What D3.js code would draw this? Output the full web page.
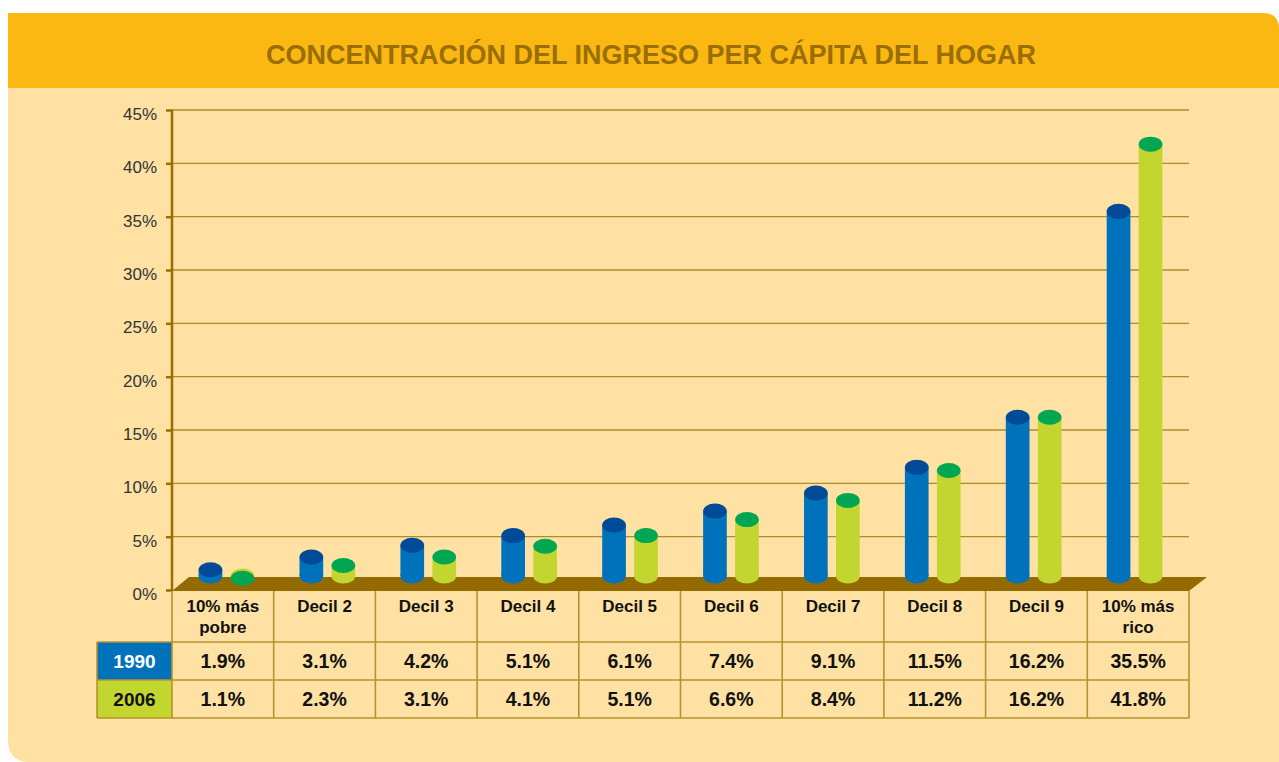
<!DOCTYPE html>
<html>
<head>
<meta charset="utf-8">
<script src="https://cdn.jsdelivr.net/npm/d3@7"></script>
<style>
  html, body { margin: 0; padding: 0; background: #ffffff; }
  svg { display: block; font-family: "Liberation Sans", Arial, Helvetica, sans-serif; }
</style>
</head>
<body>
<svg id="chart" width="1279" height="762"></svg>
<script>
// Income share by household decile, 1990 vs 2006
const categories = ["10% más pobre", "Decil 2", "Decil 3", "Decil 4", "Decil 5",
                    "Decil 6", "Decil 7", "Decil 8", "Decil 9", "10% más rico"];
const categoryLines = [["10% más", "pobre"], ["Decil 2"], ["Decil 3"], ["Decil 4"], ["Decil 5"],
                       ["Decil 6"], ["Decil 7"], ["Decil 8"], ["Decil 9"], ["10% más", "rico"]];
const years = ["1990", "2006"];
const values1990 = [1.9, 3.1, 4.2, 5.1, 6.1, 7.4, 9.1, 11.5, 16.2, 35.5];
const values2006 = [1.1, 2.3, 3.1, 4.1, 5.1, 6.6, 8.4, 11.2, 16.2, 41.8];
const yTicks = [0, 5, 10, 15, 20, 25, 30, 35, 40, 45];
const title = "CONCENTRACIÓN DEL INGRESO PER CÁPITA DEL HOGAR";

const series = [
  { year: years[0], values: values1990, side: "#0072bc", top: "#004a97", cell: "#0072bc", text: "#ffffff" },
  { year: years[1], values: values2006, side: "#c2d62f", top: "#00a651", cell: "#c2d62f", text: "#111111" }
];

const svg = d3.select("#chart");

// Panel background: header band + body, rounded top-right and bottom-left corners
const P = { x0: 8, y0: 13, x1: 1279, y1: 762, rTR: 16, rBL: 22, headerBottom: 88 };
svg.append("path")
  .attr("d", `M${P.x0},${P.y0} H${P.x1 - P.rTR} Q${P.x1},${P.y0} ${P.x1},${P.y0 + P.rTR} V${P.y1} H${P.x0 + P.rBL} Q${P.x0},${P.y1} ${P.x0},${P.y1 - P.rBL} Z`)
  .attr("fill", "#fee1a3");
svg.append("path")
  .attr("d", `M${P.x0},${P.y0} H${P.x1 - P.rTR} Q${P.x1},${P.y0} ${P.x1},${P.y0 + P.rTR} V${P.headerBottom} H${P.x0} Z`)
  .attr("fill", "#fbb813");

svg.append("text")
  .attr("x", 651).attr("y", 64)
  .attr("text-anchor", "middle")
  .attr("font-size", 27).attr("font-weight", "bold")
  .attr("fill", "#9a6e00")
  .text(title);

// Plot geometry
const left = 172, right = 1189;
const y = d3.scaleLinear().domain([0, 45]).range([590, 110]);
const xCol = d3.scaleBand().domain(categories).range([left, right]);
const xBar = d3.scaleBand().domain(categories).range([176, 1185]);
const xSeries = d3.scaleBand().domain(years).range([-32, 32]).paddingInner(0);

// Gridlines
svg.append("g")
  .selectAll("line")
  .data(yTicks.filter(t => t > 0))
  .join("line")
  .attr("x1", left).attr("x2", right)
  .attr("y1", d => y(d)).attr("y2", d => y(d))
  .attr("stroke", "#b08a2c").attr("stroke-width", 1.3);

// Y axis
const yAxis = svg.append("g")
  .attr("transform", `translate(${left},0)`)
  .call(d3.axisLeft(y).tickValues(yTicks).tickFormat(d => d + "%").tickSize(6).tickPadding(9));
yAxis.select(".domain").attr("stroke", "#9a6e00").attr("stroke-width", 2.5)
  .attr("d", `M0,${y(45)}V${591}`);
yAxis.selectAll(".tick line").attr("stroke", "#9a6e00").attr("stroke-width", 2.5);
yAxis.selectAll(".tick text")
  .attr("font-size", 17).attr("fill", "#333333")
  .attr("dy", "0.55em")
  .attr("font-family", "Liberation Sans, Arial, sans-serif");

// Floor slab
svg.append("path")
  .attr("d", `M${left + 17},577 L${right + 18},577 L${right},591 L${left},591 Z`)
  .attr("fill", "#946b00");

// Cylinders
const baseY = 576, ry = 7.5;
const barW = xSeries.bandwidth() * 0.74;
series.forEach(s => {
  const g = svg.append("g");
  const cx = (d, i) => xBar(categories[i]) + xBar.bandwidth() / 2 + xSeries(s.year) + xSeries.bandwidth() / 2;
  const data = s.values;
  g.selectAll("rect").data(data).join("rect")
    .attr("x", (d, i) => cx(d, i) - barW / 2)
    .attr("y", d => y(d))
    .attr("width", barW)
    .attr("height", d => Math.max(0, baseY - y(d)))
    .attr("fill", s.side);
  g.selectAll("ellipse.base").data(data).join("ellipse")
    .attr("class", "base")
    .attr("cx", cx).attr("cy", baseY)
    .attr("rx", barW / 2).attr("ry", ry)
    .attr("fill", s.side);
  g.selectAll("ellipse.cap").data(data).join("ellipse")
    .attr("class", "cap")
    .attr("cx", cx).attr("cy", d => y(d))
    .attr("rx", barW / 2).attr("ry", ry)
    .attr("fill", s.top);
});

// Data table
const tableTop = 591, headerBottom = 642, rowH = 38, labelLeft = 97;
const border = "#b8922e";
const rowY = i => headerBottom + i * rowH;

// Year cells
series.forEach((s, i) => {
  svg.append("rect")
    .attr("x", labelLeft).attr("y", rowY(i))
    .attr("width", left - labelLeft).attr("height", rowH)
    .attr("fill", s.cell);
  svg.append("text")
    .attr("x", (labelLeft + left) / 2).attr("y", rowY(i) + 26)
    .attr("text-anchor", "middle")
    .attr("font-size", 19).attr("font-weight", "bold")
    .attr("fill", s.text)
    .text(s.year);
});

// Category header labels
const header = svg.append("g");
categories.forEach((c, i) => {
  const t = header.append("text")
    .attr("x", xCol(c) + xCol.bandwidth() / 2)
    .attr("y", 612)
    .attr("text-anchor", "middle")
    .attr("font-size", 17).attr("font-weight", "bold")
    .attr("fill", "#111111");
  categoryLines[i].forEach((line, j) => {
    t.append("tspan").attr("x", xCol(c) + xCol.bandwidth() / 2).attr("dy", j === 0 ? 0 : 21).text(line);
  });
});

// Value cells
series.forEach((s, r) => {
  svg.append("g").selectAll("text").data(s.values).join("text")
    .attr("x", (d, i) => xCol(categories[i]) + xCol.bandwidth() / 2)
    .attr("y", rowY(r) + 26)
    .attr("text-anchor", "middle")
    .attr("font-size", 19.5).attr("font-weight", "bold")
    .attr("fill", "#111111")
    .text(d => d.toFixed(1) + "%");
});

// Table grid lines
const grid = svg.append("g").attr("stroke", border).attr("stroke-width", 1.6).attr("fill", "none");
const bottom = rowY(2);
[headerBottom, rowY(1), bottom].forEach(yy => {
  grid.append("line").attr("x1", labelLeft).attr("x2", right).attr("y1", yy).attr("y2", yy);
});
grid.append("line").attr("x1", labelLeft).attr("x2", labelLeft).attr("y1", headerBottom).attr("y2", bottom);
categories.forEach(c => {
  grid.append("line").attr("x1", xCol(c)).attr("x2", xCol(c)).attr("y1", tableTop).attr("y2", bottom);
});
grid.append("line").attr("x1", right).attr("x2", right).attr("y1", tableTop).attr("y2", bottom);
</script>
</body>
</html>
